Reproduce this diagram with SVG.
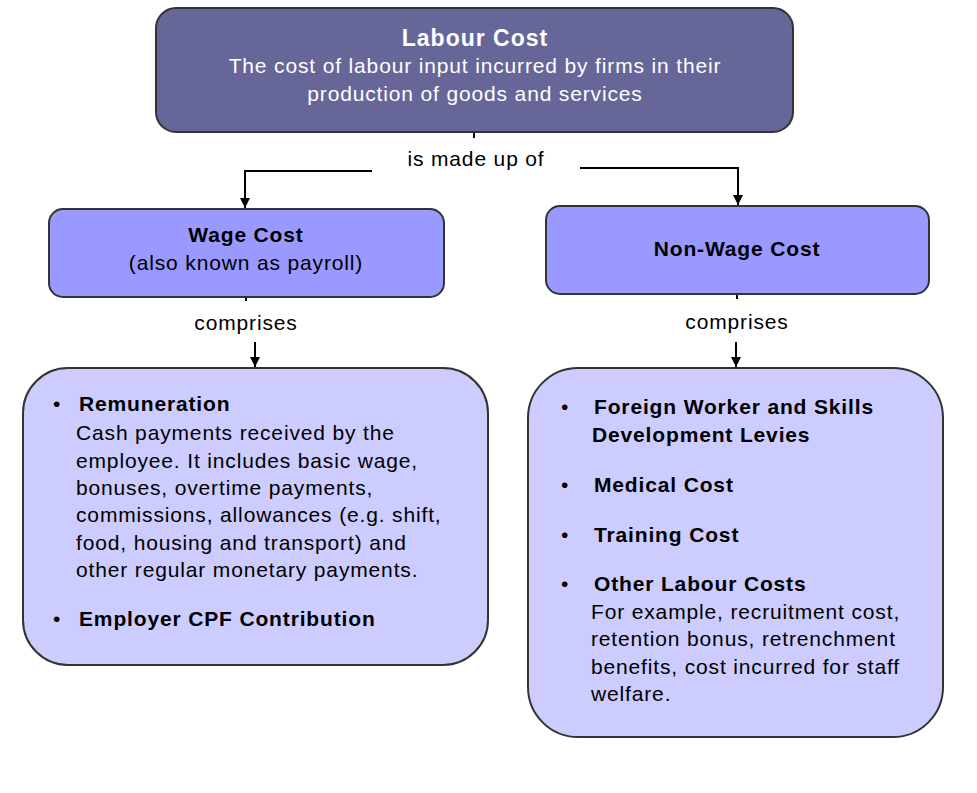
<svg xmlns="http://www.w3.org/2000/svg" width="977" height="793" viewBox="0 0 977 793">
<defs>
<marker id="ah" markerWidth="10" markerHeight="10" refX="10" refY="5" orient="auto" markerUnits="userSpaceOnUse" viewBox="0 0 10 10">
<path d="M0,0 L10,5 L0,10 Z" fill="#000"/>
</marker>
<style>
text{font-family:"Liberation Sans",Arial,sans-serif;font-size:21px;letter-spacing:0.85px;fill:#000}
.b{font-weight:bold}
.w{fill:#fff}
.box{stroke:#333;stroke-width:2}
.con{fill:none;stroke:#000;stroke-width:2}
</style>
</defs>
<rect width="977" height="793" fill="#fff"/>
<g id="connectors">
<line class="con" x1="474" y1="132" x2="474" y2="138"/>
<polyline class="con" points="372,171 245,171 245,208" marker-end="url(#ah)"/>
<polyline class="con" points="580,168 738,168 738,205" marker-end="url(#ah)"/>
<line class="con" x1="246" y1="297" x2="246" y2="301"/>
<line class="con" x1="255" y1="342" x2="255" y2="367" marker-end="url(#ah)"/>
<line class="con" x1="737" y1="294" x2="737" y2="299"/>
<line class="con" x1="736" y1="342" x2="736" y2="367" marker-end="url(#ah)"/>
<text x="476" y="166" text-anchor="middle">is made up of</text>
<text x="246" y="330" text-anchor="middle">comprises</text>
<text x="737" y="329" text-anchor="middle">comprises</text>
</g>
<g id="labour-cost">
<rect class="box" x="156" y="8" width="637" height="124" rx="20" fill="#666699"/>
<text x="475" y="46" text-anchor="middle" class="b w" style="font-size:23px;letter-spacing:1px">Labour Cost</text>
<text x="475" y="73" text-anchor="middle" class="w">The cost of labour input incurred by firms in their</text>
<text x="475" y="101" text-anchor="middle" class="w">production of goods and services</text>
</g>
<g id="wage-cost">
<rect class="box" x="49" y="209" width="395" height="88" rx="14" fill="#9999FF"/>
<text x="246" y="242" text-anchor="middle" class="b">Wage Cost</text>
<text x="246" y="270" text-anchor="middle">(also known as payroll)</text>
</g>
<g id="non-wage-cost">
<rect class="box" x="546" y="206" width="383" height="88" rx="14" fill="#9999FF"/>
<text x="737" y="256" text-anchor="middle" class="b">Non-Wage Cost</text>
</g>
<g id="wage-details">
<rect class="box" x="23" y="368" width="465" height="297" rx="45" fill="#CCCCFF"/>
<text x="53" y="411">•</text>
<text x="79" y="411" class="b">Remuneration</text>
<text x="76" y="440">Cash payments received by the</text>
<text x="76" y="468">employee. It includes basic wage,</text>
<text x="76" y="495">bonuses, overtime payments,</text>
<text x="76" y="522">commissions, allowances (e.g. shift,</text>
<text x="76" y="550">food, housing and transport) and</text>
<text x="76" y="577">other regular monetary payments.</text>
<text x="53" y="626">•</text>
<text x="79" y="626" class="b">Employer CPF Contribution</text>
</g>
<g id="non-wage-details">
<rect class="box" x="528" y="368" width="415" height="369" rx="50" fill="#CCCCFF"/>
<text x="561" y="414">•</text>
<text x="594" y="414" class="b">Foreign Worker and Skills</text>
<text x="592" y="442" class="b">Development Levies</text>
<text x="561" y="492">•</text>
<text x="594" y="492" class="b">Medical Cost</text>
<text x="561" y="542">•</text>
<text x="594" y="542" class="b">Training Cost</text>
<text x="561" y="591">•</text>
<text x="594" y="591" class="b">Other Labour Costs</text>
<text x="591" y="619">For example, recruitment cost,</text>
<text x="591" y="646">retention bonus, retrenchment</text>
<text x="591" y="674">benefits, cost incurred for staff</text>
<text x="591" y="701">welfare.</text>
</g>
</svg>
